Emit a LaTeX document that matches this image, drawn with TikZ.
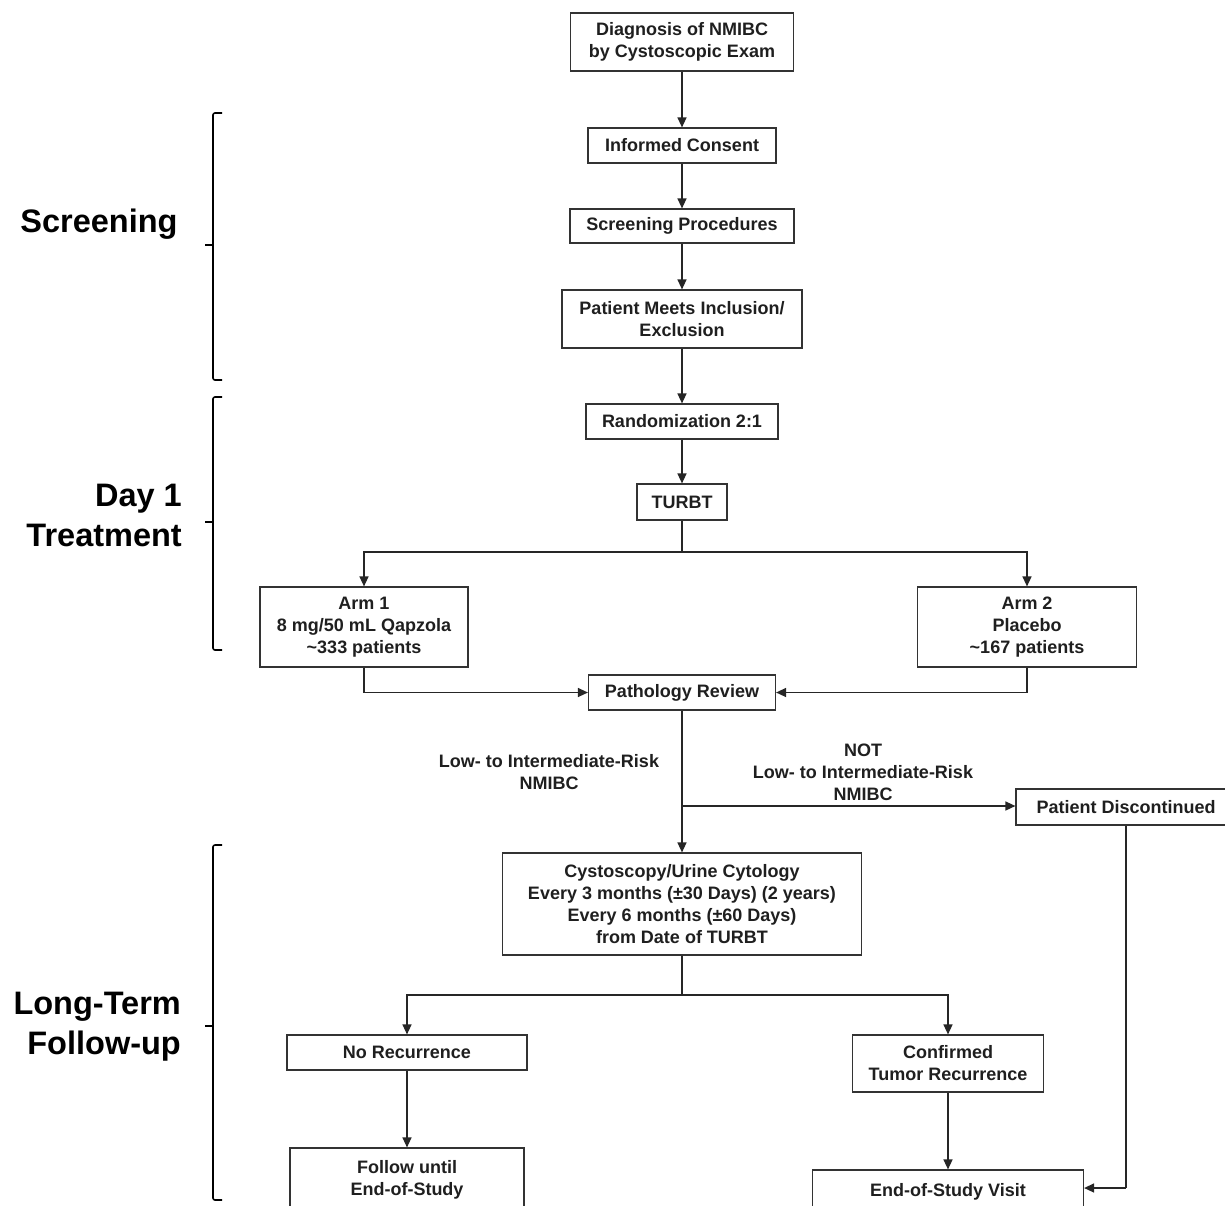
\documentclass[tikz,border=0pt]{standalone}
\usepackage{fontspec}
\setmainfont{Liberation Sans}
\usetikzlibrary{arrows.meta}
\begin{document}
\begin{tikzpicture}[x=1pt,y=-1pt,
  box/.style={draw=black!80, line width=1.2pt, fill=white, inner sep=0pt, align=center,
    text=black!88, font=\fontsize{18}{22}\selectfont\bfseries},
  lbl/.style={inner sep=0pt, align=center, text=black!88, font=\fontsize{18}{22}\selectfont\bfseries},
  phase/.style={inner sep=0pt, text=black, font=\fontsize{32.5}{40}\selectfont\bfseries},
  conn/.style={draw=black!85, line width=1.4pt},
  arr/.style={conn, -{Triangle[length=10pt,width=9pt]}},
  brk/.style={draw=black, line width=1.6pt, rounded corners=2pt}]
\useasboundingbox (0,0) rectangle (1225,1205);
\clip (0,0) rectangle (1225,1205);
\fill[white] (0,0) rectangle (1225,1205);

% boxes
\node[box, minimum width=223pt, minimum height=58pt] (diag) at (682,42) {Diagnosis of NMIBC\\by Cystoscopic Exam};
\node[box, minimum width=188pt, minimum height=35pt] (cons) at (682,145.5) {Informed Consent};
\node[box, minimum width=224pt, minimum height=34pt] (scr) at (682,226) {Screening Procedures};
\node[box, minimum width=240pt, minimum height=58pt] (meet) at (682,319) {Patient Meets Inclusion/\\Exclusion};
\node[box, minimum width=192pt, minimum height=35pt] (rand) at (682,421.5) {Randomization 2:1};
\node[box, minimum width=90pt, minimum height=36pt] (turbt) at (682,502) {TURBT};
\node[box, minimum width=208pt, minimum height=80pt] (arm1) at (364,627) {Arm 1\\8 mg/50 mL Qapzola\\\textasciitilde333 patients};
\node[box, minimum width=219pt, minimum height=80pt] (arm2) at (1027,627) {Arm 2\\Placebo\\\textasciitilde167 patients};
\node[box, minimum width=187pt, minimum height=35pt] (path) at (682,692.5) {Pathology Review};
\node[box, minimum width=220pt, minimum height=36pt] (disc) at (1126,807) {Patient Discontinued};
\node[box, minimum width=359pt, minimum height=102pt] (cyst) at (682,904) {Cystoscopy/Urine Cytology\\Every 3 months (±30 Days) (2 years)\\Every 6 months (±60 Days)\\from Date of TURBT};
\node[box, minimum width=240pt, minimum height=35pt] (norec) at (407,1052.5) {No Recurrence};
\node[box, minimum width=191pt, minimum height=57pt] (conf) at (948,1063.5) {Confirmed\\Tumor Recurrence};
\node[box, minimum width=234pt, minimum height=64pt] (foll) at (407,1180) {Follow until\\End-of-Study};
\node[box, minimum width=271pt, minimum height=40pt, text depth=0pt] (eos) at (948,1190) {End-of-Study Visit};

% branch labels
\node[lbl] (l1) at (549,772) {Low- to Intermediate-Risk\\NMIBC};
\node[lbl] (l2) at (863,772) {NOT\\Low- to Intermediate-Risk\\NMIBC};

% phase labels
\node[phase] (ph1) at (99,224) {Screening};
\node[phase, align=right, anchor=east] (ph2) at (182,515) {Day 1\\Treatment};
\node[phase, align=right, anchor=east] (ph3) at (181,1027) {Long-Term\\Follow-up};

% brackets
\draw[brk] (222,113) -- (213,113) -- (213,380) -- (222,380);
\draw[brk] (205,245) -- (213,245);
\draw[brk] (222,397) -- (213,397) -- (213,650) -- (222,650);
\draw[brk] (205,522) -- (213,522);
\draw[brk] (222,845) -- (213,845) -- (213,1200) -- (222,1200);
\draw[brk] (205,1026) -- (213,1026);

% connectors
\draw[arr] (diag.south) -- (diag.south |- cons.north);
\draw[arr] (cons.south) -- (cons.south |- scr.north);
\draw[arr] (scr.south) -- (scr.south |- meet.north);
\draw[arr] (meet.south) -- (meet.south |- rand.north);
\draw[arr] (rand.south) -- (rand.south |- turbt.north);
\coordinate (s1) at (682,552);
\draw[conn] (turbt.south) -- (s1);
\draw[arr] (s1) -| (arm1.north);
\draw[arr] (s1) -| (arm2.north);
\draw[arr] (arm1.south) |- (path.west);
\draw[arr] (arm2.south) |- (path.east);
\draw[arr] (path.south) -- (path.south |- cyst.north);
\coordinate (br) at (682,806);
\draw[arr] (br) -- (br -| disc.west);
\coordinate (s2) at (682,995);
\draw[conn] (cyst.south) -- (s2);
\draw[arr] (s2) -| (norec.north);
\draw[arr] (s2) -| (conf.north);
\draw[arr] (norec.south) -- (norec.south |- foll.north);
\draw[arr] (conf.south) -- (conf.south |- eos.north);
\coordinate (d1) at (1127,1188);
\draw[conn] (disc.south) -- (disc.south |- d1);
\draw[arr] (disc.south |- d1) -- (d1 -| eos.east);
\end{tikzpicture}
\end{document}
